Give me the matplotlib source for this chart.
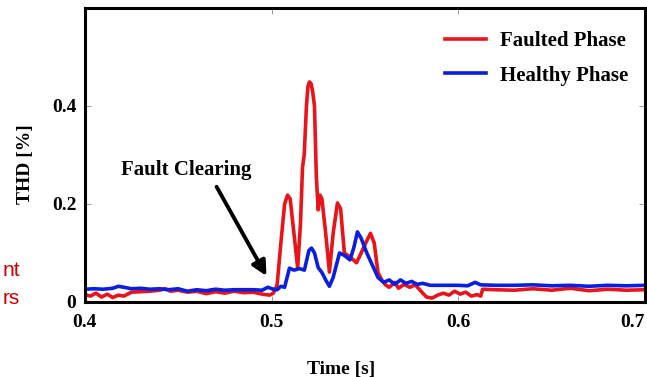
import matplotlib.pyplot as plt

# Faulted phase (red)
t_faulted = [0.400, 0.403, 0.406, 0.409, 0.412, 0.415, 0.418, 0.421, 0.425, 0.430,
             0.435, 0.440, 0.443, 0.446, 0.450, 0.455, 0.460, 0.465, 0.470, 0.475,
             0.480, 0.485, 0.490, 0.495, 0.499, 0.501, 0.503, 0.505, 0.507, 0.5086,
             0.510, 0.512, 0.514, 0.5155, 0.5166, 0.5175, 0.5187, 0.5195, 0.5203, 0.5212,
             0.522, 0.523, 0.524, 0.525, 0.526, 0.527, 0.529, 0.531, 0.533, 0.5353,
             0.537, 0.539, 0.542, 0.5455, 0.548, 0.551, 0.553, 0.555, 0.557, 0.559,
             0.561, 0.563, 0.566, 0.568, 0.571, 0.574, 0.577, 0.580, 0.583, 0.586,
             0.589, 0.592, 0.595, 0.598, 0.601, 0.604, 0.607, 0.610, 0.612, 0.613,
             0.620, 0.630, 0.640, 0.650, 0.660, 0.670, 0.680, 0.690, 0.700]
thd_faulted = [0.015, 0.012, 0.018, 0.010, 0.016, 0.009, 0.014, 0.012, 0.020, 0.021,
               0.022, 0.024, 0.027, 0.022, 0.024, 0.020, 0.022, 0.017, 0.021, 0.018,
               0.022, 0.019, 0.020, 0.016, 0.014, 0.018, 0.035, 0.120, 0.200, 0.218,
               0.210, 0.140, 0.069, 0.160, 0.275, 0.300, 0.400, 0.440, 0.449, 0.445,
               0.430, 0.400, 0.255, 0.188, 0.218, 0.210, 0.140, 0.061, 0.140, 0.202,
               0.190, 0.100, 0.092, 0.080, 0.100, 0.125, 0.140, 0.120, 0.060, 0.045,
               0.035, 0.030, 0.040, 0.028, 0.036, 0.030, 0.035, 0.022, 0.010, 0.008,
               0.014, 0.018, 0.014, 0.022, 0.016, 0.020, 0.012, 0.015, 0.012, 0.026,
               0.025, 0.024, 0.027, 0.024, 0.028, 0.023, 0.026, 0.024, 0.025]

# Healthy phase (blue)
t_healthy = [0.400, 0.405, 0.410, 0.415, 0.418, 0.421, 0.425, 0.430, 0.435, 0.440,
             0.445, 0.450, 0.455, 0.460, 0.465, 0.470, 0.475, 0.480, 0.485, 0.490,
             0.495, 0.498, 0.501, 0.503, 0.505, 0.507, 0.5096, 0.512, 0.515, 0.5176,
             0.520, 0.5214, 0.523, 0.525, 0.527, 0.529, 0.531, 0.533, 0.5364, 0.539,
             0.542, 0.544, 0.546, 0.548, 0.551, 0.554, 0.557, 0.560, 0.563, 0.566,
             0.569, 0.572, 0.575, 0.578, 0.581, 0.585, 0.590, 0.600, 0.605, 0.609,
             0.612, 0.620, 0.630, 0.640, 0.650, 0.660, 0.670, 0.680, 0.690, 0.700]
thd_healthy = [0.026, 0.027, 0.026, 0.028, 0.032, 0.030, 0.027, 0.028, 0.026, 0.027,
               0.025, 0.027, 0.022, 0.025, 0.023, 0.026, 0.024, 0.025, 0.025, 0.025,
               0.024, 0.030, 0.026, 0.025, 0.032, 0.030, 0.069, 0.065, 0.068, 0.065,
               0.105, 0.110, 0.100, 0.070, 0.060, 0.045, 0.032, 0.050, 0.100, 0.095,
               0.086, 0.110, 0.143, 0.130, 0.100, 0.075, 0.050, 0.040, 0.045, 0.036,
               0.045, 0.038, 0.042, 0.036, 0.038, 0.034, 0.034, 0.034, 0.033, 0.040,
               0.035, 0.034, 0.034, 0.035, 0.033, 0.034, 0.032, 0.034, 0.033, 0.034]

x_ticks = [0.4, 0.5, 0.6, 0.7]
y_ticks = [0, 0.2, 0.4]
y_ticklabels = ['0', '0.2', '0.4']

serif = 'Liberation Serif'

fig = plt.figure(figsize=(6.47, 3.77), dpi=100)
ax = fig.add_axes([0.131, 0.199, 0.866, 0.78])

ax.plot(t_faulted, thd_faulted, color='#e8141a', lw=2.6, label='Faulted Phase')
ax.plot(t_healthy, thd_healthy, color='#0a1ee0', lw=2.6, label='Healthy Phase')

ax.set_xlim(0.4, 0.7)
ax.set_ylim(0, 0.6)
ax.set_xticks(x_ticks)
ax.set_xticklabels([f'{v:.1f}' for v in x_ticks])
ax.set_yticks(y_ticks)
ax.set_yticklabels(y_ticklabels)
ax.tick_params(direction='in', length=4, width=0.6, color='#888888',
               top=True, right=True)
ax.tick_params(axis='x', pad=9)
ax.tick_params(axis='y', pad=6)
for lab in ax.get_xticklabels() + ax.get_yticklabels():
    lab.set_fontfamily(serif)
    lab.set_fontweight('bold')
    lab.set_fontsize(14)
# last x label would be clipped at the figure edge
ax.get_xticklabels()[-1].set_horizontalalignment('right')
for s in ax.spines.values():
    s.set_linewidth(2.2)

ax.set_xlabel('Time [s]', fontfamily=serif, fontweight='bold', fontsize=14)
ax.xaxis.set_label_coords(0.458, -0.2)
ax.set_ylabel('THD [%]', fontfamily=serif, fontweight='bold', fontsize=14)
ax.yaxis.set_label_coords(-0.09, 0.47)

ax.text(0.4545, 0.27, 'Fault Clearing', ha='center', va='center',
        fontfamily=serif, fontweight='bold', fontsize=15)
ax.annotate('', xy=(0.4973, 0.053), xytext=(0.4706, 0.235),
            arrowprops=dict(arrowstyle='-|>', color='black', lw=2.8,
                            mutation_scale=22, shrinkA=0, shrinkB=0))

ax.legend(loc='upper right', bbox_to_anchor=(1.0, 0.978), frameon=False,
          prop={'family': serif, 'weight': 'bold', 'size': 15},
          handlelength=1.95, handletextpad=0.7, labelspacing=0.7,
          borderaxespad=0.4)

# leftover slide text at the left edge
fig.text(20 / 647, 1 - 270 / 377, 'nt', color='#cc0000', fontsize=15,
         ha='right', va='center', fontfamily='Liberation Sans')
fig.text(20 / 647, 1 - 298 / 377, 'rs', color='#cc0000', fontsize=15,
         ha='right', va='center', fontfamily='Liberation Sans')

fig.savefig('out.png', dpi=100)
